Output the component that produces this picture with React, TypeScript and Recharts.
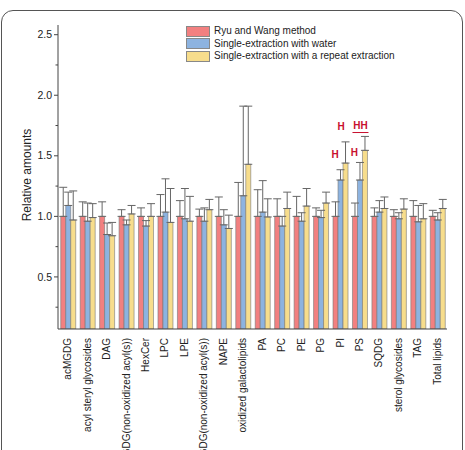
import { BarChart, Bar, XAxis, YAxis, ErrorBar, Legend, ReferenceDot } from "recharts";

const categories = [
  "acMGDG", "acyl steryl glycosides", "DAG", "DGDG(non-oxidized acyl(s))", "HexCer",
  "LPC", "LPE", "MGDG(non-oxidized acyl(s))", "NAPE", "oxidized galactolipids",
  "PA", "PC", "PE", "PG", "PI", "PS", "SQDG", "sterol glycosides", "TAG", "Total lipids"
];

const ryuWang = [1, 1, 1, 1, 1, 1, 1, 1, 1, 1, 1, 1, 1, 1, 1, 1, 1, 1, 1, 1];
const ryuWangErr = [0.24, 0.12, 0.12, 0.055, 0.07, 0.18, 0.13, 0.06, 0.16, 0.28, 0.22, 0.145, 0.165, 0.07, 0.12, 0.11, 0.07, 0.055, 0.13, 0.05];

const water = [1.09, 0.96, 0.85, 0.93, 0.92, 1.035, 0.98, 0.96, 0.93, 1.17, 1.035, 0.92, 0.96, 0.99, 1.3, 1.3, 1.035, 0.98, 0.955, 0.97];
const waterErr = [0.11, 0.15, 0.095, 0.04, 0.045, 0.275, 0.25, 0.11, 0.125, 0.74, 0.26, 0.08, 0.07, 0.06, 0.085, 0.145, 0.095, 0.05, 0.135, 0.06];

const repeat = [0.97, 0.99, 0.84, 1.02, 1.0, 0.95, 0.96, 1.055, 0.9, 1.43, 0.995, 1.065, 1.085, 1.11, 1.44, 1.545, 1.065, 1.06, 0.98, 1.065];
const repeatErr = [0.24, 0.115, 0.11, 0.07, 0.105, 0.28, 0.205, 0.085, 0.11, 0.48, 0.15, 0.135, 0.145, 0.09, 0.175, 0.115, 0.095, 0.085, 0.125, 0.075];

const seriesNames = [
  "Ryu and Wang method",
  "Single-extraction with water",
  "Single-extraction with a repeat extraction"
];
const seriesColors = ["#F28080", "#8DB3E0", "#F7DD8C"];

const yTicks = [0.25, 0.5, 0.75, 1.0, 1.25, 1.5, 1.75, 2.0, 2.25, 2.5];

// significance marks above PI / PS
const marks = [
  { cat: "PI", y: 1.51, text: "H", series: "water" },
  { cat: "PI", y: 1.74, text: "H", series: "repeat" },
  { cat: "PS", y: 1.53, text: "H", series: "water" },
  { cat: "PS", y: 1.75, text: "HH", series: "repeat" }
];

const data = categories.map((c, i) => ({
  name: c,
  ryu: ryuWang[i],
  ryuErr: [0, ryuWangErr[i]],
  water: water[i],
  waterErr: [0, waterErr[i]],
  repeat: repeat[i],
  repeatErr: [0, repeatErr[i]]
}));

const FONT = "'Liberation Sans', Arial, sans-serif";

const YTick = (props: any) => {
  const { x, y, payload } = props;
  const major = Math.abs(payload.value * 2 - Math.round(payload.value * 2)) < 1e-6;
  return (
    <g>
      <line x1={x - (major ? 4 : 2.5)} x2={x} y1={y} y2={y} stroke="#444" strokeWidth={1} />
      {major && (
        <text x={x - 6} y={y} dy="0.35em" textAnchor="end" fontSize={10.5} fill="#222" fontFamily={FONT}>
          {payload.value.toFixed(1)}
        </text>
      )}
    </g>
  );
};

const XTick = (props: any) => {
  const { x, y, payload } = props;
  return (
    <text
      transform={`translate(${x}, ${y + 9}) rotate(-90)`}
      textAnchor="end"
      dominantBaseline="central"
      fontSize={10}
      fill="#222"
      fontFamily={FONT}
    >
      {payload.value}
    </text>
  );
};

const renderLegend = () => (
  <div style={{ fontFamily: FONT, fontSize: 10, color: "#222", lineHeight: "12.5px" }}>
    {seriesNames.map((n, i) => (
      <div key={n} style={{ display: "flex", alignItems: "center", height: 12.5 }}>
        <span
          style={{
            display: "inline-block",
            width: 22,
            height: 9,
            background: seriesColors[i],
            border: "1px solid #888",
            marginRight: 4
          }}
        />
        {n}
      </div>
    ))}
  </div>
);

const MarkLabel = (props: any) => {
  const { viewBox, value, dx, underline } = props;
  const cx = viewBox.x + viewBox.width / 2 + dx;
  const cy = viewBox.y + viewBox.height / 2;
  return (
    <g>
      <text x={cx} y={cy} dy="0.35em" textAnchor="middle" fontSize={10} fontWeight="bold" fill="#C8102E" fontFamily={FONT}>
        {value}
      </text>
      {underline && <line x1={cx - 8} x2={cx + 8} y1={cy + 7} y2={cy + 7} stroke="#C8102E" strokeWidth={1} />}
    </g>
  );
};

export default function App() {
  return (
    <div style={{ position: "absolute", left: 0, top: 0, width: 465, height: 450, overflow: "hidden", background: "#fff" }}>
      <div
        style={{
          position: "absolute",
          left: 1,
          top: 10,
          width: 460,
          height: 480,
          border: "1px solid #555",
          borderRadius: 12
        }}
      />
      <div style={{ position: "absolute", left: 0, top: 0 }}>
        <BarChart
          width={465}
          height={450}
          data={data}
          margin={{ top: 25, right: 18, bottom: 0, left: 0 }}
          barCategoryGap="14%"
          barGap={0}
        >
          <XAxis
            dataKey="name"
            interval={0}
            height={121}
            tick={<XTick />}
            tickLine={false}
            tickSize={0}
            tickMargin={0}
            axisLine={{ stroke: "#444" }}
          />
          <YAxis
            width={58}
            domain={[0.07, 2.58]}
            allowDataOverflow
            ticks={yTicks}
            tick={<YTick />}
            tickLine={false}
            tickSize={0}
            tickMargin={0}
            axisLine={{ stroke: "#444" }}
            label={{
              value: "Relative amounts",
              angle: -90,
              position: "insideLeft",
              dx: 22,
              dy: -2,
              style: { fontFamily: FONT, fontSize: 12, fill: "#222", textAnchor: "middle" }
            }}
          />
          <Legend
            layout="vertical"
            align="center"
            verticalAlign="middle"
            content={renderLegend}
            wrapperStyle={{ position: "absolute", top: 25, left: 186, width: 240 }}
          />
          <Bar dataKey="ryu" name={seriesNames[0]} fill={seriesColors[0]} stroke="#777" strokeWidth={0.6} isAnimationActive={false}>
            <ErrorBar dataKey="ryuErr" width={4} stroke="#666" strokeWidth={1} direction="y" />
          </Bar>
          <Bar dataKey="water" name={seriesNames[1]} fill={seriesColors[1]} stroke="#777" strokeWidth={0.6} isAnimationActive={false}>
            <ErrorBar dataKey="waterErr" width={4} stroke="#666" strokeWidth={1} direction="y" />
          </Bar>
          <Bar dataKey="repeat" name={seriesNames[2]} fill={seriesColors[2]} stroke="#777" strokeWidth={0.6} isAnimationActive={false}>
            <ErrorBar dataKey="repeatErr" width={4} stroke="#666" strokeWidth={1} direction="y" />
          </Bar>
          {marks.map((m, i) => (
            <ReferenceDot
              key={i}
              x={m.cat}
              y={m.y}
              r={0}
              stroke="none"
              fill="none"
              label={<MarkLabel value={m.text} dx={m.series === "water" ? -5 : 1} underline={m.text === "HH"} />}
            />
          ))}
        </BarChart>
      </div>
    </div>
  );
}
